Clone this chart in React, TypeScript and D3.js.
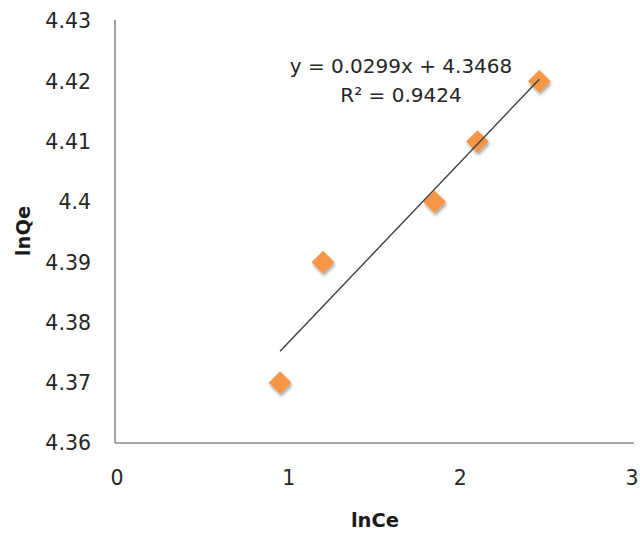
import React from "react";
import * as d3 from "d3";

const lnCe: number[] = [0.95, 1.2, 1.85, 2.1, 2.46];
const lnQe: number[] = [4.37, 4.39, 4.4, 4.41, 4.42];
const xTickValues: number[] = [0, 1, 2, 3];
const xTickLabels: string[] = ["0", "1", "2", "3"];
const yTickValues: number[] = [4.36, 4.37, 4.38, 4.39, 4.4, 4.41, 4.42, 4.43];
const yTickLabels: string[] = ["4.36", "4.37", "4.38", "4.39", "4.4", "4.41", "4.42", "4.43"];
const trendSlope = 0.0299;
const trendIntercept = 4.3468;
const equationText = "y = 0.0299x + 4.3468";
const r2Text = "R² = 0.9424";
const xTitle = "lnCe";
const yTitle = "lnQe";

const W = 640;
const H = 533;

export default function App() {
  const x = d3.scaleLinear().domain([0, 3]).range([117, 632]);
  const y = d3.scaleLinear().domain([4.36, 4.43]).range([443, 21]);
  const axisX0 = 115;
  const axisY0 = 443;

  const xMin = d3.min(lnCe) as number;
  const xMax = d3.max(lnCe) as number;
  const trendLine = d3
    .line<number>()
    .x((d) => x(d))
    .y((d) => y(trendSlope * d + trendIntercept));

  const diamond = d3.symbol().type(d3.symbolDiamond2).size(330);
  const font = "'DejaVu Sans', sans-serif";

  return (
    <svg
      width={W}
      height={H}
      style={{ position: "absolute", left: 0, top: 0, background: "#fff" }}
    >
      <defs>
        <filter id="shadow" x="-50%" y="-50%" width="200%" height="200%">
          <feDropShadow dx="1" dy="2.5" stdDeviation="1.6" floodColor="#000" floodOpacity="0.35" />
        </filter>
      </defs>
      <rect width={W} height={H} fill="#fff" />
      {/* axes */}
      <line x1={axisX0} x2={axisX0} y1={y(4.43) - 1} y2={axisY0} stroke="#8a8a8a" strokeWidth={1.6} />
      <line x1={axisX0} x2={634} y1={axisY0} y2={axisY0} stroke="#8a8a8a" strokeWidth={1.6} />
      {/* y tick labels */}
      {yTickValues.map((v, i) => (
        <text
          key={"y" + i}
          x={91}
          y={y(v)}
          dy="0.36em"
          textAnchor="end"
          fontFamily={font}
          fontSize={20.5}
          fill="#262626"
        >
          {yTickLabels[i]}
        </text>
      ))}
      {/* x tick labels */}
      {xTickValues.map((v, i) => (
        <text
          key={"x" + i}
          x={x(v)}
          y={478}
          dy="0.36em"
          textAnchor="middle"
          fontFamily={font}
          fontSize={20.5}
          fill="#262626"
        >
          {xTickLabels[i]}
        </text>
      ))}
      {/* axis titles */}
      <text
        x={375}
        y={527}
        textAnchor="middle"
        fontFamily={font}
        fontWeight="bold"
        fontSize={19.5}
        fill="#1a1a1a"
      >
        {xTitle}
      </text>
      <text
        transform={`translate(30,231) rotate(-90)`}
        textAnchor="middle"
        fontFamily={font}
        fontWeight="bold"
        fontSize={19.5}
        fill="#1a1a1a"
      >
        {yTitle}
      </text>
      {/* markers */}
      {lnCe.map((v, i) => (
        <path
          key={"p" + i}
          d={diamond() as string}
          transform={`translate(${x(v)},${y(lnQe[i])})`}
          fill="#F79646"
          filter="url(#shadow)"
        />
      ))}
      {/* trend line */}
      <path d={trendLine([xMin, xMax]) as string} fill="none" stroke="#404040" strokeWidth={1.4} />
      {/* equation */}
      <text x={401} y={73} textAnchor="middle" fontFamily={font} fontSize={20} fill="#262626">
        {equationText}
      </text>
      <text x={401} y={102} textAnchor="middle" fontFamily={font} fontSize={20} fill="#262626">
        {r2Text}
      </text>
    </svg>
  );
}
